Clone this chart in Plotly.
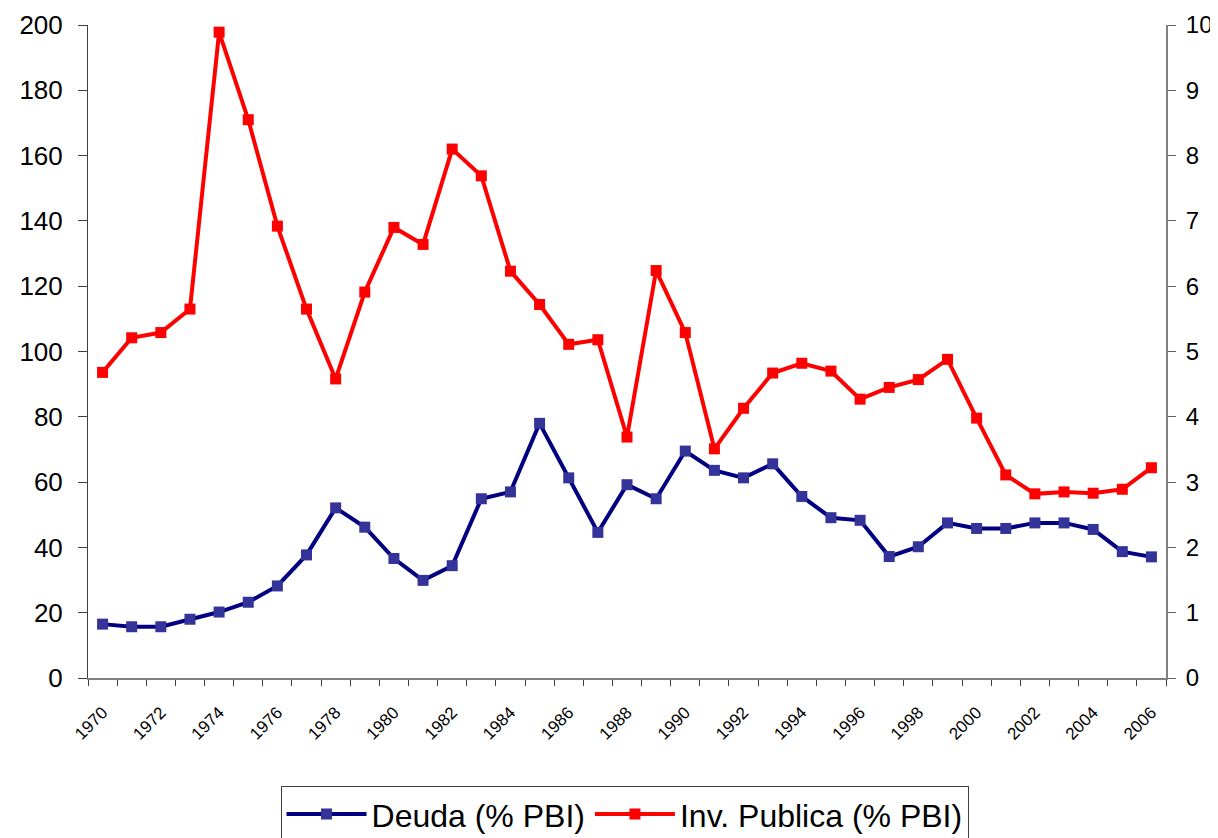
import plotly.graph_objects as go

# Series anuales 1970-2006
anios = [str(a) for a in range(1970, 2007)]

deuda = [16.5, 15.7, 15.7, 18.0, 20.2, 23.2, 28.2, 37.7, 52.1, 46.2,
         36.6, 29.9, 34.4, 54.9, 57.0, 78.0, 61.3, 44.6, 59.2, 54.9,
         69.5, 63.6, 61.3, 65.6, 55.6, 49.1, 48.3, 37.2, 40.2, 47.5,
         45.8, 45.8, 47.5, 47.5, 45.5, 38.7, 37.1]

inv_publica = [4.68, 5.21, 5.29, 5.65, 9.89, 8.55, 6.92, 5.65, 4.58, 5.91,
               6.90, 6.64, 8.10, 7.69, 6.23, 5.72, 5.11, 5.18, 3.69, 6.24,
               5.29, 3.51, 4.13, 4.67, 4.82, 4.70, 4.27, 4.45, 4.57, 4.88,
               3.98, 3.11, 2.82, 2.85, 2.83, 2.89, 3.22]

# etiquetas cada dos años
etiquetas = [a if i % 2 == 0 else "" for i, a in enumerate(anios)]

fig = go.Figure()

fig.add_trace(go.Scatter(
    x=anios, y=deuda,
    name="Deuda (% PBI)",
    mode="lines+markers",
    line=dict(color="#000080", width=4),
    marker=dict(symbol="square", size=11, color="#333399"),
))

fig.add_trace(go.Scatter(
    x=anios, y=inv_publica,
    name="Inv. Publica (% PBI)",
    mode="lines+markers",
    yaxis="y2",
    line=dict(color="#FF0000", width=4),
    marker=dict(symbol="square", size=11, color="#FF0000"),
))

# la página añade 8 px de margen al cuerpo: se compensa aquí
fig.update_layout(
    width=1218, height=838,
    margin=dict(l=80, r=60, t=17, b=168, autoexpand=False),
    plot_bgcolor="white",
    paper_bgcolor="white",
    font=dict(family="Arial, Liberation Sans", color="black"),
    showlegend=True,
    legend=dict(
        orientation="h",
        x=0.4977, xanchor="center",
        y=-0.165, yanchor="top",
        bordercolor="#404040", borderwidth=1,
        font=dict(size=32, family="Arial, Liberation Sans"),
        itemwidth=80,
    ),
    xaxis=dict(
        type="category",
        range=[-0.5, 36.5],
        tickmode="array", tickvals=anios, ticktext=etiquetas,
        tickson="boundaries",
        tickangle=-45,
        tickfont=dict(size=17),
        ticks="outside", ticklen=6, tickcolor="#404040",
        showline=True, linecolor="#808080", linewidth=2,
        showgrid=False, zeroline=False,
        ticklabelstandoff=16,
        automargin=False,
    ),
    yaxis=dict(
        range=[0, 200], dtick=20,
        tickfont=dict(size=26),
        ticks="outside", ticklen=9, tickcolor="#404040",
        showline=True, linecolor="#404040", linewidth=1,
        showgrid=False, zeroline=False,
        ticklabelstandoff=10,
        automargin=False,
    ),
    yaxis2=dict(
        range=[0, 10], dtick=1,
        overlaying="y", side="right",
        tickfont=dict(size=24),
        ticks="outside", ticklen=8, tickcolor="#606060",
        showline=True, linecolor="#808080", linewidth=2,
        showgrid=False, zeroline=False,
        ticklabelstandoff=5,
        automargin=False,
    ),
)

fig.write_html("out.html")
